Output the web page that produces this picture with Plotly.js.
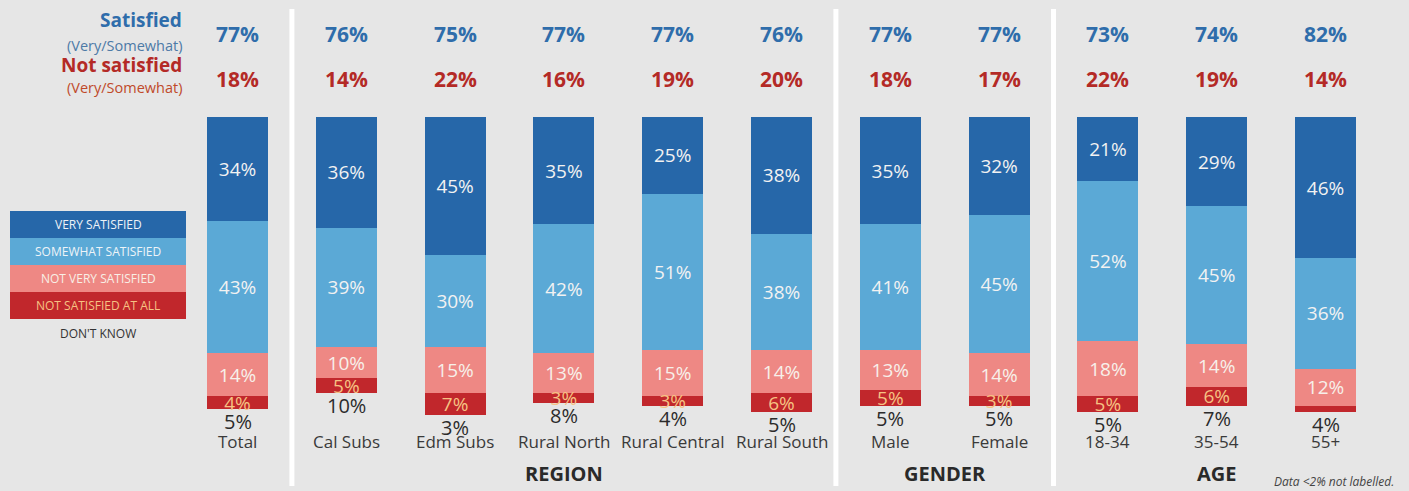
<!DOCTYPE html>
<html>
<head>
<meta charset="utf-8">
<script src="https://cdn.plot.ly/plotly-3.0.1.min.js"></script>
<style>
  html, body { margin: 0; padding: 0; background: #e6e6e6; }
  #chart { width: 1409px; height: 491px; }
</style>
</head>
<body>
<div id="chart"></div>
<script>
// ---- Data ----
const categories = ['Total', 'Cal Subs', 'Edm Subs', 'Rural North', 'Rural Central', 'Rural South', 'Male', 'Female', '18-34', '35-54', '55+'];
const verySatisfied     = [34, 36, 45, 35, 25, 38, 35, 32, 21, 29, 46];
const somewhatSatisfied = [43, 39, 30, 42, 51, 38, 41, 45, 52, 45, 36];
const notVerySatisfied  = [14, 10, 15, 13, 15, 14, 13, 14, 18, 14, 12];
const notSatisfiedAtAll = [4, 5, 7, 3, 3, 6, 5, 3, 5, 6, 2];
const dontKnow          = [5, 10, 3, 8, 4, 5, 5, 5, 5, 7, 4];
const satisfiedTotal    = [77, 76, 75, 77, 77, 76, 77, 77, 73, 74, 82];
const notSatisfiedTotal = [18, 14, 22, 16, 19, 20, 18, 17, 22, 19, 14];
const groups = [
  {name: 'REGION', from: 1, to: 5},
  {name: 'GENDER', from: 6, to: 7},
  {name: 'AGE', from: 8, to: 10}
];
const separators = [0.5, 5.5, 7.5];

// ---- Styles ----
const C_VS = '#2667a9', C_SS = '#5ba9d6', C_NVS = '#ee8884', C_NSA = '#c1272c';
const FONT = '"Open Sans", "Noto Sans", sans-serif';
const W = 1409, H = 491;
const xs = categories.map((c, i) => i);
const lbl = v => v > 2 ? v + '%' : '';

function barTrace(vals, color, name, txtColor) {
  return {
    type: 'bar', x: xs, y: vals, name: name,
    marker: {color: color, line: {width: 0}},
    width: 0.56,
    text: vals.map(lbl), textposition: 'inside', insidetextanchor: 'middle',
    constraintext: 'none', textangle: 0,
    insidetextfont: {family: FONT, size: 19, color: txtColor},
    hoverinfo: 'skip', showlegend: false, cliponaxis: false
  };
}

const data = [
  barTrace(verySatisfied, C_VS, 'Very satisfied', '#f2f2f2'),
  barTrace(somewhatSatisfied, C_SS, 'Somewhat satisfied', '#f2f2f2'),
  barTrace(notVerySatisfied, C_NVS, 'Not very satisfied', '#f7f0ea'),
  barTrace(notSatisfiedAtAll, C_NSA, 'Not satisfied at all', '#f6c283')
];

// pixel helpers (margins are 0, so paper == pixels)
const px = x => x / W;
const py = y => 1 - y / H;

const annotations = [];
// header
annotations.push({xref: 'paper', yref: 'paper', x: px(184), y: py(20), xanchor: 'right', yanchor: 'middle', showarrow: false,
  text: '<b>Satisfied</b>', font: {family: FONT, size: 19, color: '#2f6dab'}});
annotations.push({xref: 'paper', yref: 'paper', x: px(184), y: py(45), xanchor: 'right', yanchor: 'middle', showarrow: false,
  text: '(Very/Somewhat)', font: {family: FONT, size: 14.5, color: '#4d7aa6'}});
annotations.push({xref: 'paper', yref: 'paper', x: px(184), y: py(65), xanchor: 'right', yanchor: 'middle', showarrow: false,
  text: '<b>Not satisfied</b>', font: {family: FONT, size: 19, color: '#b42a26'}});
annotations.push({xref: 'paper', yref: 'paper', x: px(184), y: py(88), xanchor: 'right', yanchor: 'middle', showarrow: false,
  text: '(Very/Somewhat)', font: {family: FONT, size: 14.5, color: '#c04a2a'}});

categories.forEach((c, i) => {
  annotations.push({xref: 'x', yref: 'paper', x: i, y: py(34), xanchor: 'center', yanchor: 'middle', showarrow: false,
    text: '<b>' + satisfiedTotal[i] + '%</b>', font: {family: FONT, size: 21, color: '#2f6dab'}});
  annotations.push({xref: 'x', yref: 'paper', x: i, y: py(79), xanchor: 'center', yanchor: 'middle', showarrow: false,
    text: '<b>' + notSatisfiedTotal[i] + '%</b>', font: {family: FONT, size: 21, color: '#b42a26'}});
  const bottom = verySatisfied[i] + somewhatSatisfied[i] + notVerySatisfied[i] + notSatisfiedAtAll[i];
  annotations.push({xref: 'x', yref: 'y', x: i, y: bottom, xanchor: 'center', yanchor: 'top', yshift: 3, showarrow: false,
    text: dontKnow[i] + '%', font: {family: FONT, size: 20, color: '#2b2b2b'}});
  annotations.push({xref: 'x', yref: 'paper', x: i, y: py(441), xanchor: 'center', yanchor: 'middle', showarrow: false,
    text: c, font: {family: FONT, size: 17, color: '#3a3a3a'}});
});

groups.forEach(g => {
  annotations.push({xref: 'x', yref: 'paper', x: (g.from + g.to) / 2, y: py(473), xanchor: 'center', yanchor: 'middle', showarrow: false,
    text: '<b>' + g.name + '</b>', font: {family: FONT, size: 20, color: '#2a2a2a'}});
});
annotations.push({xref: 'paper', yref: 'paper', x: px(1396), y: py(481), xanchor: 'right', yanchor: 'middle', showarrow: false,
  text: '<i>Data &lt;2% not labelled.</i>', font: {family: FONT, size: 12, color: '#444'}});

// legend block
const legendRows = [
  {label: 'VERY SATISFIED', color: C_VS, txt: '#eef2f7'},
  {label: 'SOMEWHAT SATISFIED', color: C_SS, txt: '#eef4f8'},
  {label: 'NOT VERY SATISFIED', color: C_NVS, txt: '#f8efe6'},
  {label: 'NOT SATISFIED AT ALL', color: C_NSA, txt: '#f6c283'}
];
const shapes = [];
legendRows.forEach((r, k) => {
  const y0 = 211 + k * 27, y1 = y0 + 27;
  shapes.push({type: 'rect', xref: 'paper', yref: 'paper', x0: px(10), x1: px(186), y0: py(y1), y1: py(y0),
    fillcolor: r.color, line: {width: 0}, layer: 'below'});
  annotations.push({xref: 'paper', yref: 'paper', x: px(98), y: py((y0 + y1) / 2), xanchor: 'center', yanchor: 'middle', showarrow: false,
    text: r.label, font: {family: FONT, size: 12, color: r.txt}});
});
annotations.push({xref: 'paper', yref: 'paper', x: px(98), y: py(333), xanchor: 'center', yanchor: 'middle', showarrow: false,
  text: "DON'T KNOW", font: {family: FONT, size: 12, color: '#333'}});

separators.forEach(s => {
  shapes.push({type: 'line', xref: 'x', yref: 'paper', x0: s, x1: s, y0: py(486), y1: py(9),
    line: {color: '#ffffff', width: 5}, layer: 'below'});
});

// scale: value 0 at y=117px, 100 at y=424px
const PX_PER = 3.07, TOP = 117;
const layout = {
  width: W, height: H,
  margin: {l: 0, r: 0, t: 0, b: 0, pad: 0},
  paper_bgcolor: '#e6e6e6', plot_bgcolor: 'rgba(0,0,0,0)',
  barmode: 'stack', showlegend: false,
  xaxis: {range: [-237.5 / 108.8, 10 + 83.5 / 108.8], visible: false, fixedrange: true},
  yaxis: {range: [(H - TOP) / PX_PER, -TOP / PX_PER], visible: false, fixedrange: true},
  annotations: annotations, shapes: shapes,
  font: {family: FONT}
};

Plotly.newPlot('chart', data, layout, {displayModeBar: false, staticPlot: true});
</script>
</body>
</html>
